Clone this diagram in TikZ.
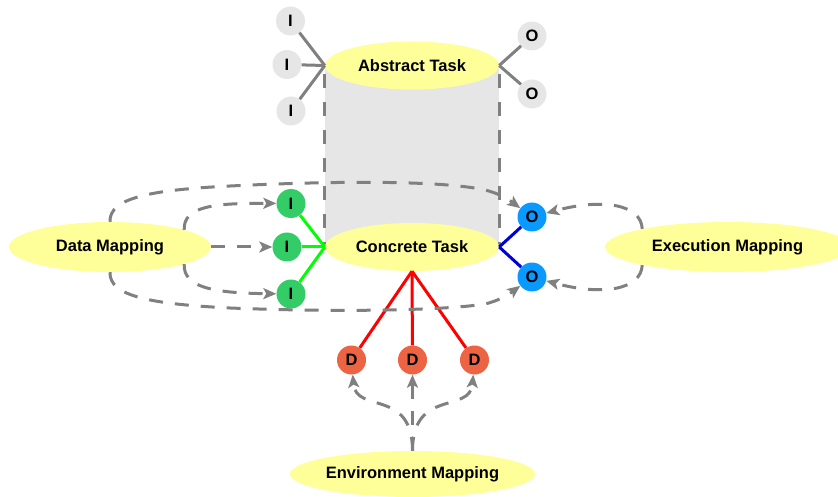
\documentclass[tikz,border=0pt]{standalone}
\usepackage{fontspec}
\setmainfont{Liberation Sans}
\usetikzlibrary{shapes.geometric,arrows.meta,backgrounds}
\definecolor{ylw}{HTML}{FFFF99}
\definecolor{pgray}{HTML}{E6E6E6}
\definecolor{lgray}{HTML}{808080}
\definecolor{pgreen}{HTML}{33CC66}
\definecolor{pblue}{HTML}{0A99FF}
\definecolor{pred}{HTML}{EC6443}
\definecolor{lblue}{HTML}{0000DD}
\begin{document}
\begin{tikzpicture}[x=1pt,y=-1pt,
  task/.style={ellipse, fill=ylw, inner sep=0pt, font=\fontsize{16.5}{19}\selectfont\bfseries},
  port/.style={circle, minimum size=29pt, inner sep=0pt, font=\fontsize{16.5}{19}\selectfont\bfseries},
  pline/.style={line width=3pt},
  dline/.style={line width=3pt, lgray, dash pattern=on 14pt off 12pt, -{Stealth[length=13pt,width=11pt,inset=3pt]}},
  vline/.style={line width=3pt, lgray, dash pattern=on 14pt off 14pt, dash phase=19pt}
]
\useasboundingbox (0,0) rectangle (838,497);
\clip (0,0) rectangle (838,497);

% tasks and mappings
\node[task, minimum width=174pt, minimum height=48pt] (at) at (412,65.5) {Abstract Task};
\node[task, minimum width=174pt, minimum height=48pt] (ct) at (412,247) {Concrete Task};
\node[task, minimum width=202pt, minimum height=50pt] (dm) at (110,247) {Data Mapping};
\node[task, minimum width=245pt, minimum height=50pt] (em) at (727.5,247) {Execution Mapping};
\node[task, minimum width=232pt, minimum height=46pt] (env) at (412.5,474) {Environment Mapping};

% cylinder body
\begin{scope}[on background layer]
  \fill[pgray] (at.west) rectangle (ct.east);
  \draw[vline] (at.west) -- (ct.west);
  \draw[vline] (at.east) -- (ct.east);
\end{scope}

% abstract ports
\node[port, fill=pgray] (ai1) at (290.5,21) {I};
\node[port, fill=pgray] (ai2) at (287,64.5) {I};
\node[port, fill=pgray] (ai3) at (291,111) {I};
\node[port, fill=pgray] (ao1) at (532,36) {O};
\node[port, fill=pgray] (ao2) at (532,94) {O};

% concrete ports
\node[port, fill=pgreen] (ci1) at (291,203.5) {I};
\node[port, fill=pgreen] (ci2) at (287,247) {I};
\node[port, fill=pgreen] (ci3) at (291,294) {I};
\node[port, fill=pblue] (co1) at (532,217) {O};
\node[port, fill=pblue] (co2) at (532,277) {O};
\node[port, fill=pred] (d1) at (351.5,360) {D};
\node[port, fill=pred] (d2) at (412.5,360) {D};
\node[port, fill=pred] (d3) at (474.5,360) {D};

% port connectors
\foreach \p in {ai1,ai2,ai3} \draw[pline, lgray] (\p) -- (at.west);
\foreach \p in {ao1,ao2} \draw[pline, lgray] (\p) -- (at.east);
\foreach \p in {ci1,ci2,ci3} \draw[pline, green] (\p) -- (ct.west);
\foreach \p in {co1,co2} \draw[pline, lblue] (\p) -- (ct.east);
\foreach \p in {d1,d2,d3} \draw[pline, red] (\p) -- (ct.south);

% data mapping
\draw[dline] (dm.east) -- (ci2);
\draw[dline] (dm.13) .. controls (183,206) and (215,203) .. (ci1);
\draw[dline] (dm.-13) .. controls (183,288) and (215,293) .. (ci3);
\draw[dline] (dm.north) .. controls (109,198) and (150,190) .. (230,186)
   .. controls (330,181) and (440,180) .. (485,190)
   .. controls (498,193) and (508,199) .. (co1);
\draw[dline] (dm.south) .. controls (109,296) and (150,304) .. (230,308)
   .. controls (330,312) and (440,311) .. (485,304)
   .. controls (498,301) and (508,295) .. (co2);

% execution mapping
\draw[dline] (em.168) .. controls (641,204) and (602,198) .. (co1);
\draw[dline] (em.192) .. controls (641,290) and (602,296) .. (co2);

% environment mapping
\draw[dline] (env.north) .. controls (412.5,388) and (356,414) .. (d1);
\draw[dline] (env.north) -- (d2);
\draw[dline] (env.north) .. controls (412.5,388) and (470,414) .. (d3);
\end{tikzpicture}
\end{document}
